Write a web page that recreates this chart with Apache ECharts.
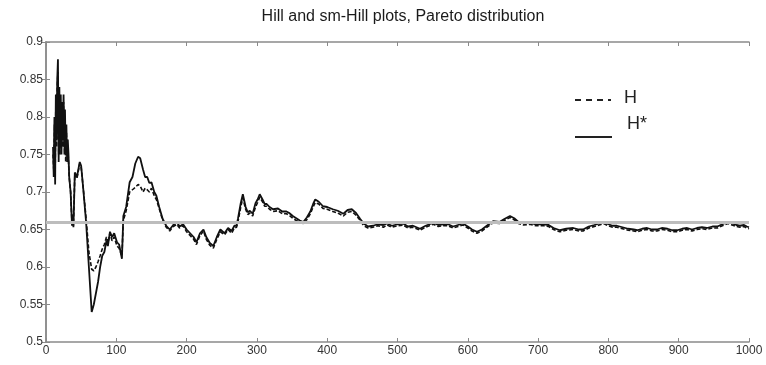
<!DOCTYPE html>
<html><head><meta charset="utf-8">
<script src="https://cdn.jsdelivr.net/npm/echarts@6/dist/echarts.min.js"></script>
<style>html,body{margin:0;padding:0;background:#fff}#c{width:766px;height:365px}</style>
</head><body><div id="c"></div>
<script>
const title = "Hill and sm-Hill plots, Pareto distribution";
const xTicks = [0,100,200,300,400,500,600,700,800,900,1000];
const refLevel = 0.66;
const k = [10,11,12,13,14,15,16,17,18,19,20,21,22,23,24,25,26,27,28,29,30,31,32,33,35,37,38,39,41,44,48,50,53,57,61,65,68,71,74,77,80,83,86,88,91,94,97,101,104,108,110,114,119,123,127,131,134,138,141,144,147,150,154,157,161,166,171,176,181,186,190,195,200,205,210,214,219,224,228,233,238,243,248,254,259,264,268,271,273,277,280,284,287,290,294,298,301,304,308,311,314,318,323,330,336,342,346,351,356,361,366,371,376,380,383,388,394,400,408,415,423,429,435,441,447,452,458,465,472,480,485,492,500,508,515,522,532,540,551,558,565,572,579,586,593,600,606,613,620,627,636,645,652,660,666,672,679,688,697,708,715,722,731,740,750,758,764,772,780,787,793,800,806,812,820,828,836,841,848,855,862,869,876,884,891,898,905,912,919,926,933,940,948,955,962,970,976,982,987,993,997,1000];
const hStar = [0.76,0.72,0.80,0.71,0.83,0.77,0.85,0.877,0.74,0.84,0.76,0.83,0.75,0.82,0.77,0.83,0.76,0.81,0.75,0.79,0.74,0.77,0.75,0.72,0.70,0.655,0.67,0.653,0.726,0.72,0.74,0.735,0.704,0.66,0.60,0.54,0.55,0.565,0.58,0.60,0.615,0.62,0.635,0.628,0.647,0.64,0.645,0.633,0.63,0.611,0.668,0.68,0.713,0.72,0.738,0.747,0.745,0.73,0.72,0.72,0.712,0.713,0.70,0.695,0.68,0.664,0.655,0.65,0.656,0.66,0.654,0.657,0.65,0.645,0.64,0.633,0.645,0.65,0.64,0.632,0.628,0.64,0.65,0.645,0.652,0.648,0.655,0.655,0.664,0.685,0.697,0.68,0.673,0.675,0.671,0.685,0.69,0.697,0.69,0.684,0.684,0.68,0.677,0.678,0.674,0.674,0.672,0.668,0.665,0.662,0.66,0.666,0.674,0.684,0.69,0.687,0.681,0.68,0.677,0.675,0.671,0.676,0.677,0.672,0.664,0.658,0.654,0.655,0.657,0.656,0.658,0.655,0.657,0.658,0.654,0.655,0.651,0.655,0.659,0.656,0.657,0.657,0.654,0.656,0.658,0.654,0.65,0.647,0.65,0.655,0.661,0.66,0.664,0.668,0.665,0.66,0.658,0.659,0.657,0.657,0.656,0.652,0.649,0.651,0.652,0.65,0.65,0.654,0.656,0.658,0.66,0.657,0.655,0.655,0.653,0.651,0.65,0.649,0.651,0.652,0.65,0.65,0.652,0.651,0.649,0.649,0.651,0.652,0.65,0.652,0.653,0.652,0.654,0.654,0.657,0.66,0.658,0.656,0.655,0.656,0.654,0.653];
const hPlain = [0.75,0.73,0.79,0.72,0.82,0.76,0.84,0.86,0.75,0.83,0.75,0.82,0.76,0.81,0.76,0.82,0.75,0.80,0.74,0.78,0.75,0.76,0.74,0.72,0.70,0.658,0.668,0.655,0.724,0.718,0.738,0.733,0.705,0.665,0.62,0.597,0.595,0.60,0.607,0.615,0.624,0.63,0.64,0.632,0.645,0.635,0.64,0.628,0.625,0.615,0.662,0.675,0.70,0.703,0.706,0.71,0.708,0.70,0.705,0.703,0.70,0.705,0.695,0.69,0.678,0.662,0.653,0.648,0.654,0.657,0.652,0.655,0.647,0.642,0.637,0.630,0.642,0.648,0.637,0.629,0.625,0.637,0.647,0.643,0.65,0.645,0.652,0.653,0.66,0.68,0.692,0.677,0.67,0.672,0.668,0.68,0.686,0.693,0.687,0.681,0.681,0.677,0.674,0.675,0.671,0.671,0.669,0.665,0.662,0.66,0.658,0.663,0.671,0.68,0.686,0.684,0.678,0.677,0.674,0.672,0.668,0.673,0.674,0.669,0.662,0.655,0.652,0.653,0.655,0.653,0.656,0.653,0.655,0.656,0.652,0.653,0.649,0.653,0.657,0.654,0.655,0.655,0.652,0.654,0.656,0.652,0.648,0.645,0.648,0.653,0.659,0.658,0.662,0.666,0.663,0.658,0.656,0.657,0.655,0.655,0.654,0.65,0.647,0.649,0.65,0.648,0.648,0.652,0.654,0.656,0.658,0.655,0.653,0.653,0.651,0.649,0.648,0.647,0.649,0.65,0.648,0.648,0.65,0.649,0.647,0.647,0.649,0.65,0.648,0.65,0.651,0.65,0.652,0.652,0.655,0.658,0.656,0.654,0.653,0.654,0.652,0.651];

const chart = echarts.init(document.getElementById('c'), null, {renderer:'canvas'});
const axisGray = '#8a8a8a';
const lblFont = {color:'#333', fontFamily:'Liberation Sans, Arial, sans-serif', fontSize:12};
const pairs = (vals) => k.map((x,i)=>[x, vals[i]]);
chart.setOption({
  animation:false,
  backgroundColor:'#fff',
  title:{text:title, left:398, textAlign:'center', top:4,
    textStyle:{fontFamily:'Liberation Sans, Arial, sans-serif', fontSize:16, fontWeight:'normal', color:'#1a1a1a'}},
  grid:{left:46, right:17, top:42, bottom:23, containLabel:false},
  xAxis:[
    {type:'value', min:0, max:1000, interval:100, position:'bottom',
     axisLine:{show:true, lineStyle:{color:axisGray, width:1.5}},
     axisTick:{show:true, inside:true, length:4, lineStyle:{color:axisGray}},
     axisLabel:Object.assign({margin:3, formatter:(v)=> xTicks.includes(v)? String(v):''}, lblFont),
     splitLine:{show:false}},
    {type:'value', min:0, max:1000, interval:100, position:'top',
     axisLine:{show:true, lineStyle:{color:axisGray, width:1.5}},
     axisTick:{show:true, inside:true, length:4, lineStyle:{color:axisGray}},
     axisLabel:{show:false}, splitLine:{show:false}}
  ],
  yAxis:[
    {type:'value', min:0.5, max:0.9, interval:0.05, position:'left',
     axisLine:{show:true, lineStyle:{color:axisGray, width:1.5}},
     axisTick:{show:true, inside:true, length:4, lineStyle:{color:axisGray}},
     axisLabel:Object.assign({margin:3, formatter:(v)=> String(Math.round(v*100)/100)}, lblFont),
     splitLine:{show:false}},
    {type:'value', min:0.5, max:0.9, interval:0.05, position:'right',
     axisLine:{show:true, lineStyle:{color:axisGray, width:1.5}},
     axisTick:{show:true, inside:true, length:4, lineStyle:{color:axisGray}},
     axisLabel:{show:false}, splitLine:{show:false}}
  ],
  series:[
    {name:'H', type:'line', data:pairs(hPlain), showSymbol:false, symbol:'none',
     lineStyle:{color:'#111', width:1.6, type:[4,2]},
     markLine:{silent:true, symbol:'none', label:{show:false},
       lineStyle:{color:'#bdbdbd', width:3, type:'solid'}, data:[{yAxis:refLevel}]}},
    {name:'H*', type:'line', data:pairs(hStar), showSymbol:false, symbol:'none',
     lineStyle:{color:'#111', width:1.8, type:'solid'}}
  ],
  graphic:[
    {type:'line', shape:{x1:575, y1:100, x2:611, y2:100}, style:{stroke:'#222', lineWidth:2.2, lineDash:[6,5]}},
    {type:'text', left:624, top:89, style:{text:'H', font:'18px Liberation Sans, Arial, sans-serif', fill:'#222'}},
    {type:'line', shape:{x1:575, y1:137, x2:612, y2:137}, style:{stroke:'#222', lineWidth:2.2}},
    {type:'text', left:627, top:115, style:{text:'H*', font:'18px Liberation Sans, Arial, sans-serif', fill:'#222'}}
  ]
});
</script></body></html>
